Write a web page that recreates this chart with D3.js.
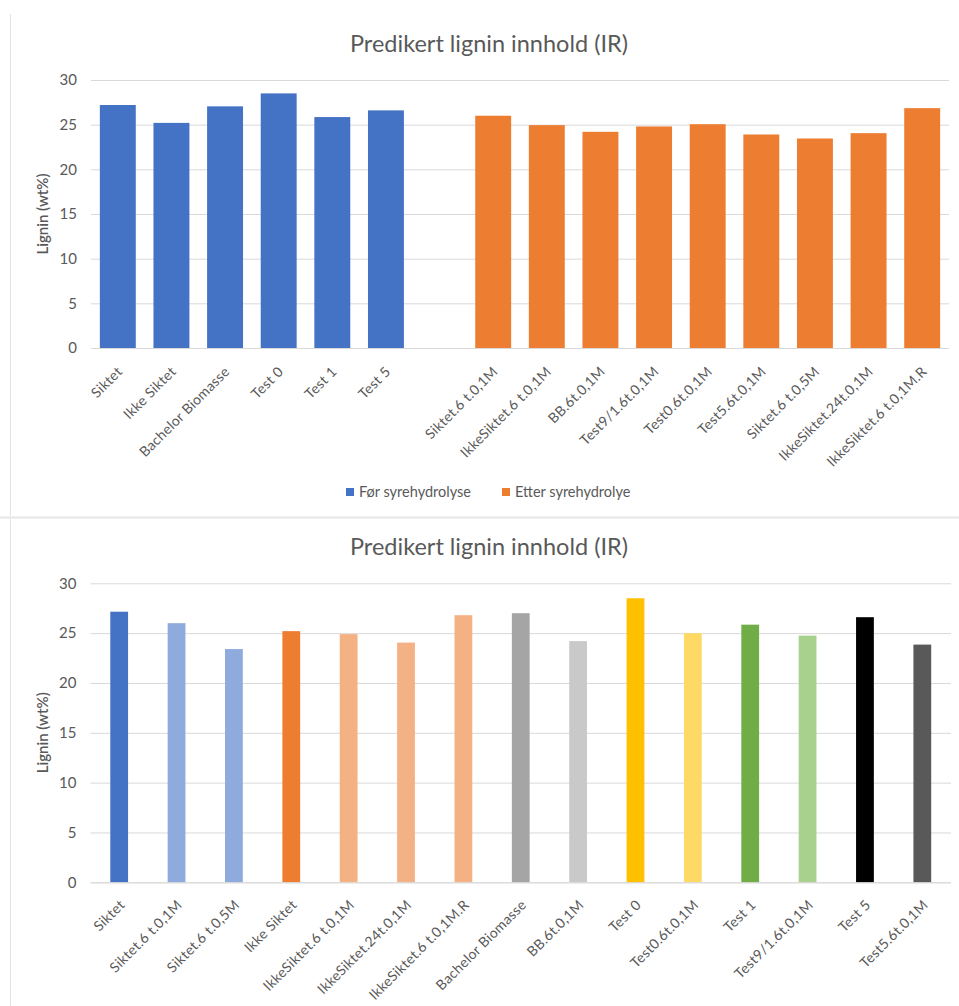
<!DOCTYPE html>
<html>
<head>
<meta charset="utf-8">
<script src="https://cdn.jsdelivr.net/npm/d3@7"></script>
<style>
  html, body { margin: 0; padding: 0; background: #fff; }
  svg { display: block; font-family: Lato, "Open Sans", sans-serif; }
</style>
</head>
<body>
<svg id="chart" width="959" height="1006"></svg>
<script>
// ---------- DATA ----------
const chartTitle = "Predikert lignin innhold (IR)";
const yAxisTitle = "Lignin (wt%)";
const yTicks = [0, 5, 10, 15, 20, 25, 30];

// Top chart
const beforeLabels = ["Siktet", "Ikke Siktet", "Bachelor Biomasse", "Test 0", "Test 1", "Test 5"];
const beforeValues = [27.2, 25.2, 27.05, 28.5, 25.85, 26.6];
const afterLabels = ["Siktet.6 t.0,1M", "IkkeSiktet.6 t.0,1M", "BB.6t.0,1M", "Test9/1.6t.0,1M",
  "Test0.6t.0,1M", "Test5.6t.0,1M", "Siktet.6 t.0,5M", "IkkeSiktet.24t.0,1M", "IkkeSiktet.6 t.0,1M.R"];
const afterValues = [26.0, 24.95, 24.2, 24.8, 25.05, 23.9, 23.45, 24.05, 26.85];
const legendLabels = ["Før syrehydrolyse", "Etter syrehydrolye"];

// Bottom chart
const bottomLabels = ["Siktet", "Siktet.6 t.0,1M", "Siktet.6 t.0,5M", "Ikke Siktet", "IkkeSiktet.6 t.0,1M",
  "IkkeSiktet.24t.0,1M", "IkkeSiktet.6 t.0,1M.R", "Bachelor Biomasse", "BB.6t.0,1M", "Test 0",
  "Test0.6t.0,1M", "Test 1", "Test9/1.6t.0,1M", "Test 5", "Test5.6t.0,1M"];
const bottomValues = [27.15, 26.0, 23.4, 25.2, 24.9, 24.05, 26.8, 27.0, 24.2, 28.5, 25.0, 25.85, 24.75, 26.6, 23.85];

// ---------- STYLE ----------
const seriesColors = ["#4472C4", "#ED7D31"];
const bottomPalette = ["#4472C4", "#8FAADC", "#8FAADC", "#ED7D31", "#F4B183", "#F4B183", "#F4B183",
  "#A5A5A5", "#C9C9C9", "#FFC000", "#FFD966", "#70AD47", "#A9D18E", "#000000", "#595959"];
const textColor = "#595959";
const gridColor = "#D9D9D9";

const svg = d3.select("#chart");

// frame lines (sheet artefacts)
svg.append("line").attr("x1", 10.5).attr("x2", 10.5).attr("y1", 14).attr("y2", 516)
  .attr("stroke", "#e3e3e3").attr("stroke-width", 1);
svg.append("line").attr("x1", 10.5).attr("x2", 10.5).attr("y1", 519).attr("y2", 1006)
  .attr("stroke", "#e3e3e3").attr("stroke-width", 1);
svg.append("line").attr("x1", 0).attr("x2", 959).attr("y1", 517.5).attr("y2", 517.5)
  .attr("stroke", "#e6e6e6").attr("stroke-width", 2);

function drawFrame(g, cfg) {
  const y = d3.scaleLinear().domain([0, 30]).range([cfg.y0, cfg.y1]);
  // title
  g.append("text").attr("x", cfg.titleX).attr("y", cfg.titleY)
    .attr("text-anchor", "middle").attr("fill", textColor)
    .style("font-size", "23.5px").text(chartTitle);
  // gridlines
  const axis = d3.axisLeft(y).tickValues(yTicks).tickSize(-(cfg.x1 - cfg.x0)).tickPadding(14);
  const ga = g.append("g").attr("transform", `translate(${cfg.x0},0)`).call(axis);
  ga.select(".domain").remove();
  ga.selectAll(".tick line").attr("stroke", gridColor).attr("stroke-width", 1);
  ga.selectAll(".tick text").attr("fill", textColor).style("font-size", "15px")
    .style("font-family", "Lato, 'Open Sans', sans-serif");
  // y title
  g.append("text")
    .attr("transform", `translate(${cfg.yTitleX},${(cfg.y0 + cfg.y1) / 2}) rotate(-90)`)
    .attr("text-anchor", "middle").attr("fill", textColor)
    .style("font-size", "15px").style("font-weight", "600").text(yAxisTitle);
  return y;
}

function drawLabels(g, x, keys, labels, axisY, dx, dy) {
  g.selectAll(null).data(keys).enter().append("text")
    .attr("transform", (d) => `translate(${x(d) + x.bandwidth() / 2 + dx},${axisY + dy}) rotate(-45)`)
    .attr("text-anchor", "end").attr("dy", "0.35em").attr("fill", textColor)
    .style("font-size", "14px").style("letter-spacing", "0.3px")
    .text((d, i) => labels[i]);
}

// ---------- TOP CHART ----------
{
  const g = svg.append("g");
  const cfg = { x0: 91, x1: 949, y0: 348, y1: 80, titleX: 489, titleY: 52, yTitleX: 48 };
  const y = drawFrame(g, cfg);
  const cats = [...beforeLabels.map((l, i) => "b" + i), "gap", ...afterLabels.map((l, i) => "a" + i)];
  const x = d3.scaleBand().domain(cats).range([cfg.x0, cfg.x1]).paddingInner(0.33).paddingOuter(0.165);
  const rows = [
    ...beforeValues.map((v, i) => ({ k: "b" + i, v, s: 0 })),
    ...afterValues.map((v, i) => ({ k: "a" + i, v, s: 1 }))
  ];
  g.selectAll("rect.bar").data(rows).enter().append("rect").attr("class", "bar")
    .attr("x", (d) => x(d.k)).attr("width", x.bandwidth())
    .attr("y", (d) => y(d.v)).attr("height", (d) => y(0) - y(d.v))
    .attr("fill", (d) => seriesColors[d.s]);
  g.append("line").attr("x1", cfg.x0).attr("x2", cfg.x1).attr("y1", y(0) + 0.5).attr("y2", y(0) + 0.5)
    .attr("stroke", gridColor);
  const labelKeys = rows.map((d) => d.k);
  const labelTexts = [...beforeLabels, ...afterLabels];
  drawLabels(g, x, labelKeys, labelTexts, y(0), 2, 21);

  // legend
  const legend = g.append("g").attr("transform", "translate(346,492)");
  const lx = [0, 156];
  legendLabels.forEach((t, i) => {
    legend.append("rect").attr("x", lx[i]).attr("y", -4).attr("width", 8).attr("height", 8)
      .attr("fill", seriesColors[i]);
    legend.append("text").attr("x", lx[i] + 13).attr("y", 0).attr("dy", "0.35em")
      .attr("fill", textColor).style("font-size", "14.5px").text(t);
  });
}

// ---------- BOTTOM CHART ----------
{
  const g = svg.append("g");
  const cfg = { x0: 90.5, x1: 951, y0: 882.3, y1: 583.3, titleX: 489, titleY: 555, yTitleX: 48 };
  const y = drawFrame(g, cfg);
  const keys = bottomLabels.map((l, i) => "c" + i);
  const x = d3.scaleBand().domain(keys).range([cfg.x0, cfg.x1]).paddingInner(0.69).paddingOuter(0.345);
  g.selectAll("rect.bar").data(bottomValues).enter().append("rect").attr("class", "bar")
    .attr("x", (d, i) => x(keys[i])).attr("width", x.bandwidth())
    .attr("y", (d) => y(d)).attr("height", (d) => y(0) - y(d))
    .attr("fill", (d, i) => bottomPalette[i]);
  g.append("line").attr("x1", cfg.x0).attr("x2", cfg.x1).attr("y1", y(0) + 0.5).attr("y2", y(0) + 0.5)
    .attr("stroke", gridColor);
  drawLabels(g, x, keys, bottomLabels, y(0), 3, 20);
}
</script>
</body>
</html>
